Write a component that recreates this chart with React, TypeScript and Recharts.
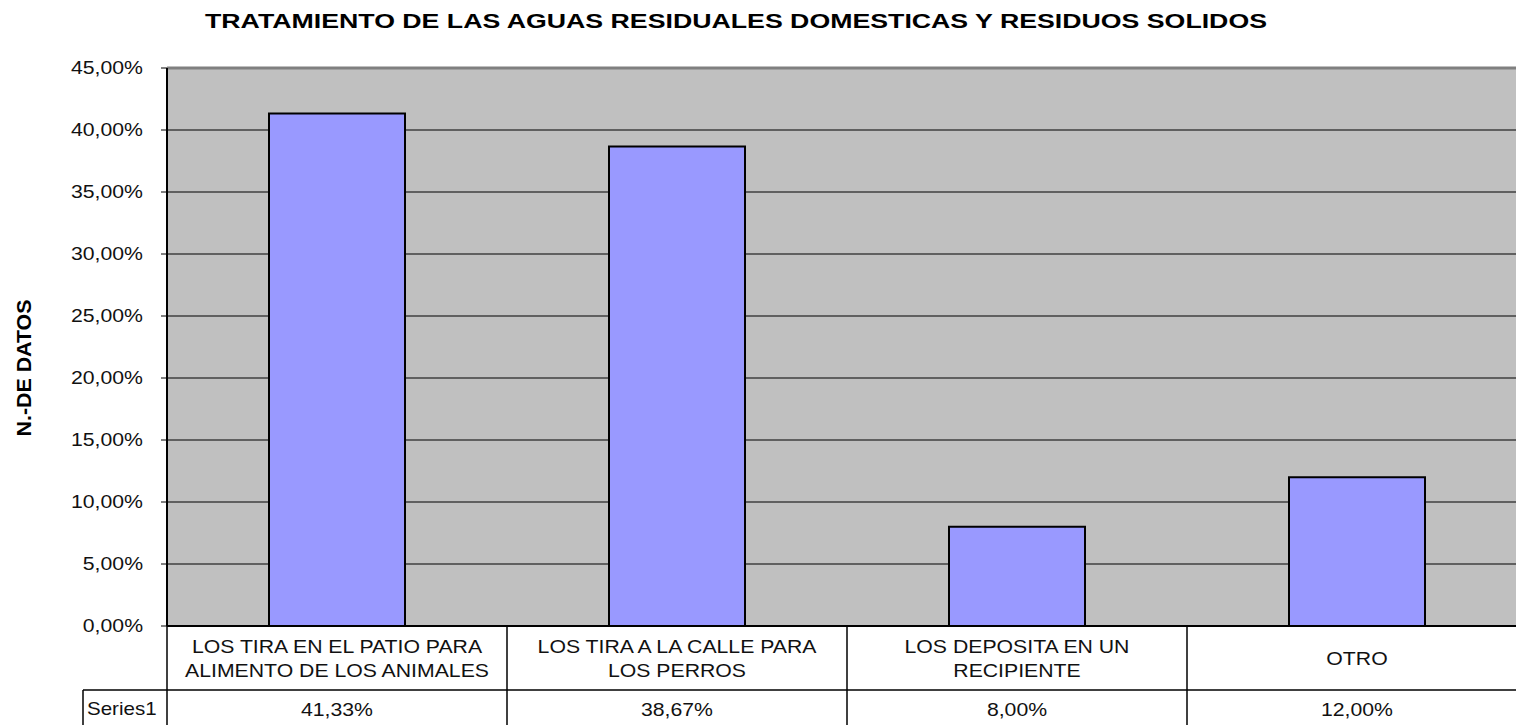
import React from 'react';
import { BarChart, Bar, XAxis, YAxis, CartesianGrid, ReferenceLine } from 'recharts';

const chartTitle = 'TRATAMIENTO DE LAS AGUAS RESIDUALES DOMESTICAS Y RESIDUOS SOLIDOS';
const yAxisTitle = 'N.-DE DATOS';
const seriesName = 'Series1';
const categories = [
  'LOS TIRA EN EL PATIO PARA\nALIMENTO DE LOS ANIMALES',
  'LOS TIRA A LA CALLE PARA\nLOS PERROS',
  'LOS DEPOSITA EN UN\nRECIPIENTE',
  'OTRO',
];
const values = [0.4133, 0.3867, 0.08, 0.12];
const yTicks = [0, 0.05, 0.1, 0.15, 0.2, 0.25, 0.3, 0.35, 0.4, 0.45];

const data = categories.map((c, i) => ({ category: c, value: values[i] }));

const FONT = '"Liberation Sans", Arial, sans-serif';
const SX = 1.18;

const fmt = (v: number) => (v * 100).toFixed(2).replace('.', ',') + '%';

const YTick = (props: any) => {
  const { x, y, payload } = props;
  return (
    <text
      transform={`translate(${x},${y}) scale(${SX},1)`}
      x={0}
      y={0}
      dy="0.355em"
      textAnchor="end"
      fontSize={18}
      fontFamily={FONT}
      fill="#111"
    >
      {fmt(payload.value)}
    </text>
  );
};

const XTick = (props: any) => {
  const { x, y, payload, index, width } = props;
  const half =
    typeof payload?.offset === 'number' && payload.offset > 0
      ? payload.offset
      : width / categories.length / 2;
  const label: string = String(payload.value);
  const lines = label.split('\n');
  const n = lines.length;
  const centerY = y + 32;
  const rowY = y + 64;
  const bottom = y + 100;
  const val = values[index];
  return (
    <g>
      {index === 0 && (
        <>
          <line x1={x - half} y1={y} x2={x - half} y2={bottom} stroke="#000" strokeWidth={1.5} />
          <line x1={x - half - 84} y1={rowY} x2={x - half} y2={rowY} stroke="#000" strokeWidth={1.5} />
          <line x1={x - half - 84} y1={rowY} x2={x - half - 84} y2={bottom} stroke="#000" strokeWidth={1.5} />
          <text
            transform={`translate(${x - half - 80},${y + 89}) scale(1.14,1)`}
            x={0}
            y={0}
            fontSize={18}
            fontFamily={FONT}
            fill="#111"
          >
            {seriesName}
          </text>
        </>
      )}
      <line x1={x + half} y1={y} x2={x + half} y2={bottom} stroke="#000" strokeWidth={1.5} />
      <line x1={x - half} y1={rowY} x2={x + half} y2={rowY} stroke="#000" strokeWidth={1.5} />
      {lines.map((ln, i) => (
        <text
          key={i}
          transform={`translate(${x},${centerY + (i - (n - 1) / 2) * 24 + 6.5}) scale(${SX},1)`}
          x={0}
          y={0}
          textAnchor="middle"
          fontSize={18}
          fontFamily={FONT}
          fill="#111"
        >
          {ln}
        </text>
      ))}
      <text
        transform={`translate(${x},${y + 90}) scale(${SX},1)`}
        x={0}
        y={0}
        textAnchor="middle"
        fontSize={18}
        fontFamily={FONT}
        fill="#111"
      >
        {fmt(val)}
      </text>
    </g>
  );
};

export default function App() {
  return (
    <div
      style={{
        position: 'relative',
        margin: '-8px 0 0 -8px',
        width: 1524,
        height: 725,
        overflow: 'hidden',
        background: '#fff',
      }}
    >
      <BarChart
        width={1530}
        height={725}
        data={data}
        margin={{ top: 68, right: 3, bottom: 0, left: 0 }}
        barCategoryGap="30%"
      >
        <CartesianGrid
          vertical={false}
          stroke="#000"
          strokeWidth={1}
          fill="#C0C0C0"
          fillOpacity={1}
        />
        <ReferenceLine y={0.45} stroke="#808080" strokeWidth={3} />
        <XAxis
          dataKey="category"
          interval={0}
          height={99}
          tickLine={false}
          tickSize={0}
          tickMargin={0}
          axisLine={{ stroke: '#000', strokeWidth: 2 }}
          tick={<XTick />}
        />
        <YAxis
          width={167}
          domain={[0, 0.45]}
          ticks={yTicks}
          interval={0}
          tickSize={6}
          tickMargin={18}
          tickLine={{ stroke: '#000', strokeWidth: 1 }}
          axisLine={{ stroke: '#000', strokeWidth: 2 }}
          tick={<YTick />}
        />
        <Bar
          dataKey="value"
          fill="#9999FF"
          stroke="#000"
          strokeWidth={2}
          isAnimationActive={false}
        />
      </BarChart>
      <svg
        width={1524}
        height={725}
        style={{ position: 'absolute', left: 0, top: 0, pointerEvents: 'none' }}
      >
        <text
          x={736}
          y={28}
          textAnchor="middle"
          fontSize={21}
          fontWeight="bold"
          fontFamily={FONT}
          fill="#000"
          textLength={1062}
          lengthAdjust="spacingAndGlyphs"
        >
          {chartTitle}
        </text>
        <text
          transform="translate(31,368) rotate(-90)"
          x={0}
          y={0}
          textAnchor="middle"
          fontSize={20}
          fontWeight="bold"
          fontFamily={FONT}
          fill="#000"
          textLength={137}
          lengthAdjust="spacingAndGlyphs"
        >
          {yAxisTitle}
        </text>
      </svg>
    </div>
  );
}
